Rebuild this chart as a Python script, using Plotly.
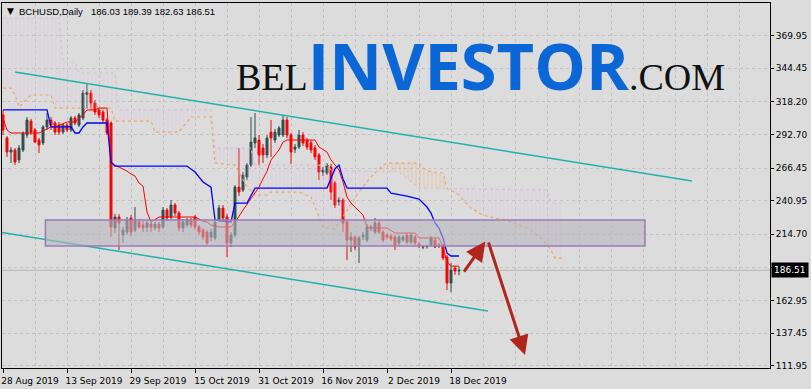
import plotly.graph_objects as go

# ---------------- data (bar index 0 = 28 Aug 2019, daily bars) ----------------
bar_open = [308.0, 290.0, 279.0, 280.6, 272.8, 280.6, 292.3, 303.2, 296.2, 288.4,
            286.1, 298.6, 304.0, 301.7, 300.1, 294.6, 300.1, 296.2, 305.6, 300.1,
            305.6, 324.0, 325.1, 317.3, 311.9, 310.3, 304.0, 301.7, 219.6, 228.2,
            214.1, 216.4, 227.4, 218.0, 224.3, 222.0, 220.0, 222.7, 219.6, 222.7,
            220.4, 233.6, 228.2, 237.6, 231.3, 219.6, 221.9, 225.8, 228.2, 220.4,
            218.0, 216.4, 212.5, 211.8, 225.8, 235.2, 228.2, 207.9, 214.1, 251.6,
            249.3, 259.5, 268.8, 286.1, 288.4, 282.1, 276.7, 294.6, 288.4, 292.3,
            292.3, 304.0, 292.3, 281.2, 282.9, 292.3, 288.4, 286.1, 282.1, 276.7,
            263.4, 262.6, 267.3, 254.8, 240.0, 241.5, 224.3, 210.2, 212.5, 206.3,
            212.5, 210.2, 220.4, 216.4, 223.5, 216.4, 214.1, 213.3, 212.5, 207.9,
            210.2, 214.1, 208.6, 212.5, 207.1, 204.7, 205.0, 206.3, 210.2, 205.5,
            206.3, 196.9, 176.6, 188.3, 186.03]
bar_high = [311.9, 291.5, 282.9, 282.1, 284.5, 295.0, 306.4, 305.0, 297.8, 290.0,
            300.1, 309.5, 306.4, 303.2, 302.5, 301.7, 301.7, 307.2, 307.2, 309.5,
            327.5, 332.2, 327.5, 319.7, 313.5, 311.9, 305.6, 303.0, 230.5, 230.5,
            220.4, 228.2, 229.7, 236.0, 226.6, 225.0, 225.0, 224.3, 224.3, 224.3,
            236.0, 235.2, 241.5, 239.1, 232.9, 226.6, 227.4, 227.4, 229.7, 222.0,
            219.6, 218.0, 218.8, 226.6, 237.6, 237.6, 230.5, 216.4, 253.2, 282.1,
            263.4, 270.4, 306.4, 309.5, 292.3, 285.3, 292.3, 304.0, 297.0, 299.3,
            308.0, 306.4, 293.9, 285.3, 296.2, 294.6, 290.0, 288.4, 284.5, 278.2,
            267.3, 270.4, 269.6, 256.3, 243.8, 243.0, 225.8, 216.4, 214.1, 213.3,
            216.4, 222.7, 222.0, 227.4, 225.0, 218.0, 215.7, 215.0, 214.1, 214.1,
            214.1, 215.7, 215.7, 214.1, 208.6, 206.3, 206.5, 213.3, 211.8, 207.9,
            207.1, 198.5, 192.2, 189.9, 189.39]
bar_low = [292.3, 275.1, 270.4, 268.8, 270.4, 279.0, 290.0, 292.3, 286.1, 278.2,
           284.5, 296.2, 296.2, 292.3, 292.3, 293.1, 294.6, 294.6, 300.1, 298.6,
           304.0, 313.0, 312.0, 308.0, 305.6, 301.7, 292.3, 212.5, 215.7, 202.4,
           207.9, 214.1, 213.0, 216.4, 218.8, 216.4, 216.5, 216.4, 218.0, 216.4,
           218.8, 225.0, 226.6, 229.0, 217.0, 216.4, 220.0, 219.6, 218.0, 214.1,
           210.2, 206.3, 209.4, 210.2, 224.3, 225.0, 196.9, 204.7, 212.5, 244.6,
           247.7, 257.1, 267.3, 282.1, 268.8, 270.4, 274.3, 275.1, 286.1, 290.8,
           290.8, 290.0, 269.6, 278.2, 281.4, 283.7, 280.6, 278.2, 272.8, 257.1,
           260.2, 261.0, 241.5, 235.2, 237.0, 216.4, 194.5, 200.8, 202.4, 192.2,
           210.2, 208.6, 217.0, 214.9, 214.9, 208.6, 211.0, 209.4, 202.4, 206.3,
           209.0, 207.0, 207.0, 206.3, 203.9, 203.1, 203.5, 205.0, 203.9, 204.0,
           194.5, 171.1, 169.5, 183.0, 182.63]
bar_close = [296.2, 279.0, 280.6, 271.2, 282.1, 293.9, 304.0, 294.6, 286.8, 284.5,
             298.6, 304.0, 300.1, 294.6, 294.6, 300.1, 296.2, 305.6, 301.7, 308.0,
             325.1, 325.5, 317.3, 310.3, 308.0, 304.0, 293.9, 220.4, 228.2, 223.5,
             218.0, 225.8, 216.4, 225.8, 220.4, 219.6, 223.5, 220.4, 222.7, 219.6,
             233.6, 227.4, 237.6, 231.3, 219.6, 224.3, 225.8, 221.9, 220.4, 216.4,
             212.5, 207.9, 216.4, 224.3, 235.2, 227.4, 207.9, 214.1, 251.6, 247.7,
             261.0, 268.8, 286.8, 290.0, 276.7, 276.7, 290.0, 290.0, 294.6, 297.8,
             304.0, 292.3, 279.0, 282.9, 292.3, 286.1, 282.9, 280.6, 275.1, 263.4,
             264.9, 268.8, 247.7, 237.6, 241.5, 223.5, 210.2, 212.5, 204.7, 211.8,
             214.1, 220.4, 218.8, 223.5, 216.4, 210.2, 212.5, 211.0, 206.3, 212.5,
             212.5, 208.6, 214.1, 207.9, 206.3, 205.0, 205.2, 211.8, 204.7, 206.3,
             196.1, 176.6, 186.7, 186.0, 186.51]
bar_index = list(range(len(bar_close)))

# Ichimoku lines: (bar index, price) vertices
tenkan_x = [0, 1, 2, 9, 10, 12, 13, 16, 18, 20, 21, 23, 24, 26, 27, 29, 30, 31, 32, 33,
            34, 35, 36, 37, 39, 48, 50, 51, 52, 54, 57, 58, 60, 64, 65, 66, 67, 69, 70, 71,
            78, 79, 80, 81, 82, 84, 85, 86, 87, 88, 89, 90, 91, 93, 96, 98, 103, 104, 109,
            110, 111, 112, 114]
tenkan_y = [305.6, 296.2, 293.9, 293.9, 295.4, 298.6, 298.6, 302.5, 302.5, 308.0, 311.9,
            311.9, 313.4, 313.4, 270.4, 267.3, 265.6, 264.1, 261.8, 260.2, 254.8, 252.4,
            232.1, 224.3, 228.2, 228.2, 225.0, 224.3, 221.9, 220.4, 220.4, 224.0, 233.6,
            251.6, 258.0, 264.0, 272.8, 280.6, 286.8, 288.4, 288.4, 282.9, 281.0, 279.0,
            272.8, 264.9, 255.5, 243.8, 239.1, 236.0, 232.9, 229.7, 220.4, 219.6, 219.6,
            215.7, 215.7, 211.8, 211.8, 204.7, 193.0, 189.8, 189.8]
kijun_x = [0, 11, 12, 17, 18, 19, 20, 21, 26, 27, 28, 46, 48, 50, 52, 53, 57, 58, 61, 62,
           63, 81, 82, 83, 84, 85, 86, 96, 97, 101, 104, 106, 107, 108, 109, 110, 111,
           112, 114]
kijun_y = [311.9, 311.9, 298.6, 298.6, 293.9, 293.9, 298.6, 301.7, 301.7, 271.2, 268.0,
           268.0, 263.4, 255.6, 251.6, 225.8, 224.3, 239.1, 239.1, 245.0, 250.8, 250.8,
           258.0, 266.0, 268.8, 258.0, 250.8, 250.8, 246.9, 244.6, 242.2, 236.0, 231.3,
           223.5, 219.6, 211.8, 200.0, 197.7, 197.7]
span_a_x = [0, 2, 3, 4, 5, 7, 12, 13, 27, 28, 37, 38, 44, 46, 47, 52, 53, 58, 59, 61,
            63, 66, 67, 74, 77, 78, 79, 80, 83, 86, 87, 89, 92, 93.5, 95, 96, 104, 105,
            107, 110, 111, 112, 114, 115, 117, 120, 123, 128, 132, 135, 137, 138, 140]
span_a_y = [329.0, 329.0, 323.6, 314.2, 317.3, 323.6, 323.6, 313.4, 313.4, 303.2, 303.2,
            294.6, 294.6, 302.5, 306.4, 306.4, 270.4, 268.8, 263.4, 251.6, 245.4, 245.4,
            247.7, 247.7, 243.8, 236.0, 228.2, 220.4, 218.8, 233.6, 237.6, 247.7, 259.5,
            264.0, 268.8, 270.4, 270.4, 266.5, 263.4, 262.6, 250.6, 249.3, 245.4, 241.5,
            235.2, 229.7, 227.4, 223.5, 218.0, 210.2, 202.4, 196.1, 196.1]
span_b_x = [0, 14, 15, 18, 19, 28, 29, 52, 53, 62, 63, 81, 82, 93.5, 99, 104, 111, 136,
            137, 140]
span_b_y = [383.8, 383.8, 349.4, 349.4, 340.8, 340.8, 311.9, 311.9, 282.1, 282.1, 268.8,
            268.8, 264.9, 264.0, 263.4, 250.8, 250.6, 249.3, 239.1, 239.1]
cloud_cross = [93.5, 111]          # where span A and span B cross

date_tick_index = [0, 16, 32, 48, 64, 80, 96, 112]
date_tick_text = ["28 Aug 2019", "13 Sep 2019", "29 Sep 2019", "15 Oct 2019",
                  "31 Oct 2019", "16 Nov 2019", "2 Dec 2019", "18 Dec 2019"]
price_tick_values = [369.95, 344.45, 318.20, 292.70, 266.45, 240.95, 214.70, 188.45,
                     162.95, 137.45, 111.95]
# the 188.45 label is hidden behind the last-price marker in the reference
price_tick_text = ["369.95", "344.45", "318.20", "292.70", "266.45", "240.95", "214.70",
                   "", "162.95", "137.45", "111.95"]

last_price = 186.51
ohlc_text = "186.03 189.39 182.63 186.51"

# drawn objects: trend channel, zone rectangle, arrows (bar index, price)
upper_channel = [(3, 341.6), (172.25, 256.3)]
lower_channel = [(-0.75, 216.4), (121.25, 154.7)]
zone = [(10.6, 205.5), (160.5, 225.8)]
arrow_up = [(115.0, 184.4), (120.6, 209.0)]
arrow_down = [(121.25, 209.4), (130.5, 120.3)]

# ---------------- styling ----------------
BG = "#DCDCDC"
GRID = "#C2C2C2"
THISTLE = "#D8BFD8"
SANDY = "#F4A460"

fig = go.Figure()


def segment(xs, ys, lo, hi):
    sx = [x for x in xs if lo <= x <= hi]
    sy = [y for x, y in zip(xs, ys) if lo <= x <= hi]
    return sx, sy


regions = [(0, cloud_cross[0], THISTLE, 0.55), (cloud_cross[0], cloud_cross[1], SANDY, 0.45),
           (cloud_cross[1], 140, THISTLE, 0.55)]
for lo, hi, col, op in regions:
    bx, by = segment(span_b_x, span_b_y, lo, hi)
    ax_, ay_ = segment(span_a_x, span_a_y, lo, hi)
    fig.add_trace(go.Scatter(x=bx, y=by, mode="lines", line=dict(width=0),
                             hoverinfo="skip", showlegend=False))
    fig.add_trace(go.Scatter(x=ax_, y=ay_, mode="lines", line=dict(width=0),
                             fill="tonexty", fillcolor="rgba(0,0,0,0)",
                             fillpattern=dict(shape="|", fgcolor=col, bgcolor="rgba(0,0,0,0)",
                                              size=4, solidity=0.25, fgopacity=op),
                             hoverinfo="skip", showlegend=False))

fig.add_trace(go.Scatter(x=span_a_x, y=span_a_y, mode="lines",
                         line=dict(color=SANDY, width=1.2, dash="dot"), showlegend=False))
fig.add_trace(go.Scatter(x=span_b_x, y=span_b_y, mode="lines",
                         line=dict(color=THISTLE, width=1.2, dash="dot"), showlegend=False))

fig.add_trace(go.Candlestick(
    x=bar_index, open=bar_open, high=bar_high, low=bar_low, close=bar_close,
    increasing=dict(line=dict(color="#2F4F4F", width=1), fillcolor="#2F4F4F"),
    decreasing=dict(line=dict(color="#FF0000", width=1), fillcolor="#FF0000"),
    whiskerwidth=0, showlegend=False))

fig.add_trace(go.Scatter(x=tenkan_x, y=tenkan_y, mode="lines",
                         line=dict(color="#FF0000", width=1), showlegend=False))
fig.add_trace(go.Scatter(x=kijun_x, y=kijun_y, mode="lines",
                         line=dict(color="#0000FF", width=1.3), showlegend=False))

shapes = [
    dict(type="line", xref="paper", x0=0, x1=1, yref="y", y0=last_price, y1=last_price,
         line=dict(color="#B8B8B8", width=1), layer="below"),
    dict(type="line", xref="x", yref="y", x0=upper_channel[0][0], y0=upper_channel[0][1],
         x1=upper_channel[1][0], y1=upper_channel[1][1],
         line=dict(color="#20B2AA", width=1.5), layer="above"),
    dict(type="line", xref="x", yref="y", x0=lower_channel[0][0], y0=lower_channel[0][1],
         x1=lower_channel[1][0], y1=lower_channel[1][1],
         line=dict(color="#20B2AA", width=1.5), layer="above"),
    dict(type="rect", xref="x", yref="y", x0=zone[0][0], y0=zone[0][1],
         x1=zone[1][0], y1=zone[1][1], fillcolor="rgba(182,182,190,0.6)",
         line=dict(color="#9B7BB8", width=1.5), layer="above"),
]

annotations = []
for (tx, ty), (hx, hy) in [arrow_up, arrow_down]:
    annotations.append(dict(x=hx, y=hy, ax=tx, ay=ty, xref="x", yref="y", axref="x",
                            ayref="y", text="", showarrow=True, arrowhead=2, arrowsize=1.3,
                            arrowwidth=3, arrowcolor="#B0261C"))

# watermark logo
annotations.append(dict(
    xref="paper", yref="paper", x=(234 - 2) / 768, y=(368 - 111) / 365,
    xanchor="left", yanchor="bottom", showarrow=False,
    text=('<span style="font-family:Liberation Serif;font-size:38px;color:#111111">BEL</span>'
          '<b><span style="font-family:Open Sans;font-size:65px;color:#0B66D6">INVESTOR</span></b>'
          '<span style="font-family:Liberation Serif;font-size:38px;color:#111111">.COM</span>'),
    font=dict(family="Liberation Serif", size=38, color="#111111")))

# chart title
annotations.append(dict(xref="paper", yref="paper", x=(5 - 2) / 768, y=(368 - 11) / 365,
                        xanchor="left", yanchor="middle", showarrow=False, text="▼",
                        font=dict(family="DejaVu Sans", size=9, color="black")))
annotations.append(dict(xref="paper", yref="paper", x=(17 - 2) / 768, y=(368 - 11) / 365,
                        xanchor="left", yanchor="middle", showarrow=False, text="BCHUSD,Daily",
                        font=dict(family="Liberation Sans", size=9.5, color="black")))
annotations.append(dict(xref="paper", yref="paper", x=(89 - 2) / 768, y=(368 - 11) / 365,
                        xanchor="left", yanchor="middle", showarrow=False, text=ohlc_text,
                        font=dict(family="Liberation Sans", size=9.5, color="black")))
# last price marker
annotations.append(dict(xref="paper", yref="y", x=1, y=last_price, xanchor="left",
                        yanchor="middle", xshift=1, showarrow=False, text=f"{last_price:.2f}",
                        bgcolor="black", borderpad=2,
                        font=dict(family="DejaVu Sans", size=9, color="white")))

minor_grid = [8 * k for k in range(1, 24) if 8 * k not in date_tick_index]

fig.update_layout(
    width=811, height=389, margin=dict(l=2, r=41, t=3, b=21),
    paper_bgcolor=BG, plot_bgcolor=BG, showlegend=False,
    shapes=shapes, annotations=annotations,
    xaxis=dict(range=[-0.25, 191.75], tickmode="array", tickvals=date_tick_index,
               ticktext=date_tick_text, ticks="outside", ticklen=4, tickcolor="black",
               showgrid=True, gridcolor=GRID, griddash="3px,3px", gridwidth=1,
               minor=dict(tickmode="array", tickvals=minor_grid, showgrid=True,
                          gridcolor=GRID, griddash="3px,3px", ticks=""),
               showline=True, linecolor="black", linewidth=1, mirror=True,
               zeroline=False, rangeslider=dict(visible=False),
               tickfont=dict(family="DejaVu Sans", size=9, color="black"),
               ticklabelshift=27),
    yaxis=dict(side="right", range=[110.15, 395.52], tickmode="array",
               tickvals=price_tick_values, ticktext=price_tick_text, ticks="outside",
               ticklen=3, tickcolor="black", showgrid=True, gridcolor=GRID,
               griddash="3px,3px", showline=True, linecolor="black", linewidth=1,
               mirror=True, zeroline=False,
               tickfont=dict(family="DejaVu Sans", size=9, color="black")),
)

fig.write_html("out.html", config={"displayModeBar": False})
